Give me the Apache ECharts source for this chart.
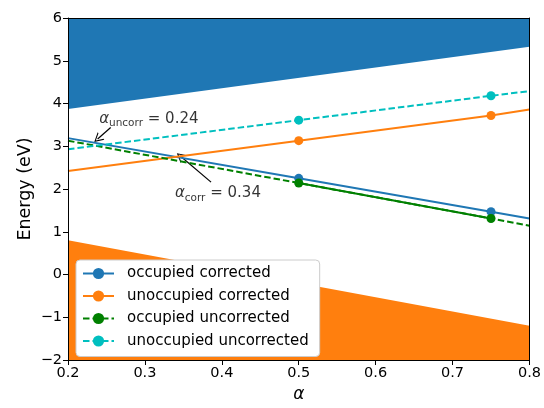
<!DOCTYPE html>
<html>
<head>
<meta charset="utf-8">
<script src="https://cdn.jsdelivr.net/npm/echarts@6/dist/echarts.min.js"></script>
<style>html,body{margin:0;padding:0;background:#fff}#c{width:544px;height:408px}</style>
</head>
<body>
<div id="c"></div>
<script>
const alpha = [0.2, 0.5, 0.75, 0.8];
const markerAlpha = [0.5, 0.75];
const occCorr = [3.19, 2.25, 1.47, 1.31];
const unoccCorr = [2.42, 3.13, 3.72, 3.86];
const occUncorr = [3.13, 2.14, 1.31, 1.14];
const unoccUncorr = [2.93, 3.61, 4.18, 4.29];
const bandAlpha = [0.2, 0.8];
const cbEdge = [3.87, 5.33];
const vbEdge = [0.80, -1.20];
const annUncorr = { pos: [0.2405, 3.64], arrowFrom: [0.2555, 3.44], arrowTo: [0.2385, 3.17], value: '0.24', sub: 'uncorr' };
const annCorr = { pos: [0.339, 1.90], arrowFrom: [0.386, 2.16], arrowTo: [0.346, 2.77], value: '0.34', sub: 'corr' };

const C = { blue: '#1f77b4', orange: '#ff7f0e', green: '#008000', cyan: '#00bfbf' };
const FONT = 'DejaVu Sans';
const ARROW = 'path://M0,10 L5,0 L10,10 L8.8,10 L5,2.4 L1.2,10 Z';

function pts(vals) {
  return alpha.map((a, i) => ({ value: [a, vals[i]], symbol: markerAlpha.includes(a) ? 'circle' : 'none' }));
}
function lineSeries(name, vals, color, dashed) {
  return {
    name, type: 'line', data: pts(vals), symbol: 'circle', symbolSize: 9,
    itemStyle: { color }, lineStyle: { color, width: 2, type: dashed ? [6.5, 3] : 'solid' },
    z: 5, animation: false
  };
}
const fmt = v => String(Math.round(v * 10) / 10).replace('-', '\u2212');

const chart = echarts.init(document.getElementById('c'), null, { renderer: 'canvas' });
const axisCommon = {
  type: 'value', z: 10,
  axisLine: { show: true, onZero: false, lineStyle: { color: '#000', width: 1 } },
  splitLine: { show: false }
};
const richAnn = {
  a: { fontFamily: FONT, fontSize: 15, fontStyle: 'italic', color: '#000' },
  s: { fontFamily: FONT, fontSize: 10.5, color: '#000', padding: [9, 0, 0, 0] },
  b: { fontFamily: FONT, fontSize: 15, color: '#000' }
};
function annLabel(a) { return '{a|α}{s|' + a.sub + '}{b| = ' + a.value + '}'; }

chart.setOption({
  animation: false,
  grid: { left: 68, right: 13, top: 18, bottom: 42 },
  xAxis: [
    Object.assign({}, axisCommon, {
      min: 0.2, max: 0.8, interval: 0.1, position: 'bottom',
      name: 'α', nameLocation: 'middle', nameGap: 26, nameMoveOverlap: false,
      nameTextStyle: { fontFamily: FONT, fontSize: 17, fontStyle: 'italic', color: '#000' },
      axisTick: { show: true, length: 5, lineStyle: { color: '#000' } },
      axisLabel: { fontFamily: FONT, fontSize: 14.5, color: '#000', margin: 6, formatter: v => fmt(v) }
    }),
    Object.assign({}, axisCommon, {
      min: 0.2, max: 0.8, position: 'top',
      axisTick: { show: false }, axisLabel: { show: false }
    })
  ],
  yAxis: [
    Object.assign({}, axisCommon, {
      min: -2, max: 6, interval: 1, position: 'left',
      name: 'Energy (eV)', nameLocation: 'middle', nameGap: 34, nameMoveOverlap: false,
      nameTextStyle: { fontFamily: FONT, fontSize: 17.5, color: '#000' },
      axisTick: { show: true, length: 5, lineStyle: { color: '#000' } },
      axisLabel: { fontFamily: FONT, fontSize: 14.5, color: '#000', margin: 6, formatter: v => fmt(v) }
    }),
    Object.assign({}, axisCommon, {
      min: -2, max: 6, position: 'right',
      axisTick: { show: false }, axisLabel: { show: false }
    })
  ],
  legend: {
    data: ['occupied corrected', 'unoccupied corrected', 'occupied uncorrected', 'unoccupied uncorrected'],
    orient: 'vertical', left: 76, top: 260,
    backgroundColor: '#ffffff', borderColor: '#cccccc', borderWidth: 1, borderRadius: 4,
    padding: [6, 11, 8, 6], itemGap: 7.5, itemWidth: 31, itemHeight: 14,
    textStyle: { fontFamily: FONT, fontSize: 15, color: '#000', padding: [0, 0, 0, 8] },
    z: 20
  },
  series: [
    {
      name: 'cb', type: 'line', data: bandAlpha.map((a, i) => [a, cbEdge[i]]), symbol: 'none',
      lineStyle: { width: 0 }, areaStyle: { color: C.blue, opacity: 1, origin: 'end' }, z: 1, silent: true
    },
    {
      name: 'vb', type: 'line', data: bandAlpha.map((a, i) => [a, vbEdge[i]]), symbol: 'none',
      lineStyle: { width: 0 }, areaStyle: { color: C.orange, opacity: 1, origin: 'start' }, z: 1, silent: true
    },
    lineSeries('occupied corrected', occCorr, C.blue, false),
    lineSeries('unoccupied corrected', unoccCorr, C.orange, false),
    lineSeries('occupied uncorrected', occUncorr, C.green, true),
    lineSeries('unoccupied uncorrected', unoccUncorr, C.cyan, true),
    {
      name: 'occ-uncorr-fit', type: 'line', symbol: 'none',
      data: alpha.map((a, i) => [a, occUncorr[i]]).filter(p => markerAlpha.includes(p[0])),
      lineStyle: { color: C.green, width: 2 }, z: 4
    },
    {
      name: 'annotations', type: 'scatter', symbolSize: 0, z: 8, silent: true,
      data: [annUncorr, annCorr].map(a => ({
        value: a.pos,
        label: { show: true, position: 'right', distance: 0, formatter: annLabel(a), rich: richAnn }
      })),
      markLine: {
        silent: true, animation: false,
        lineStyle: { color: '#000', width: 1.2, type: 'solid' },
        label: { show: false },
        symbolSize: [10, 9],
        data: [
          [{ coord: annUncorr.arrowFrom, symbol: 'none' }, { coord: annUncorr.arrowTo, symbol: ARROW }],
          [{ coord: annCorr.arrowFrom, symbol: 'none', lineStyle: { curveness: -0.2 } }, { coord: annCorr.arrowTo, symbol: ARROW }]
        ]
      }
    }
  ]
});
</script>
</body>
</html>
